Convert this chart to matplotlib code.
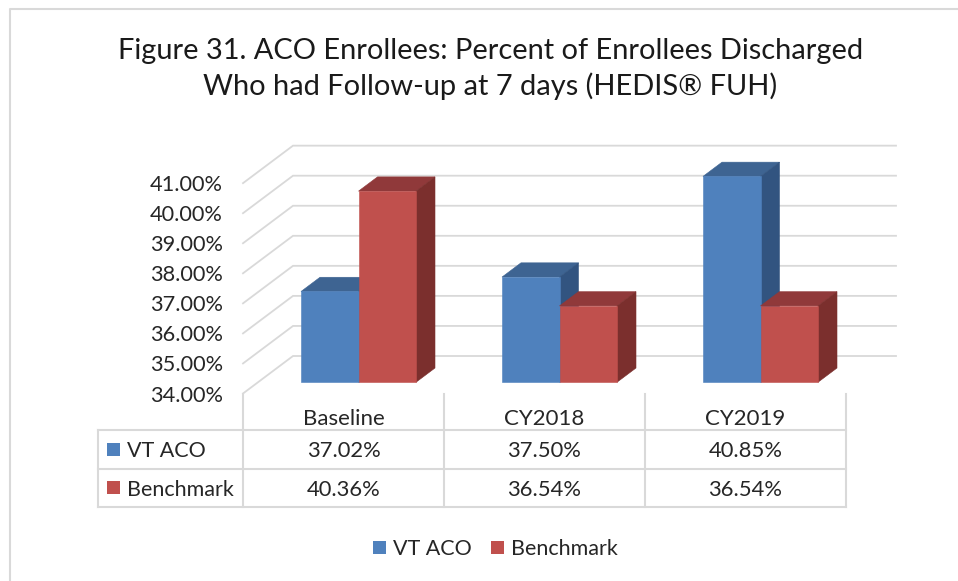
import matplotlib
matplotlib.use("Agg")
import matplotlib.pyplot as plt
from matplotlib.lines import Line2D
from matplotlib.patches import Polygon, Patch, Rectangle
from matplotlib.transforms import Affine2D

categories = ["Baseline", "CY2018", "CY2019"]
series_names = ["VT ACO", "Benchmark"]
vt_aco = [37.02, 37.50, 40.85]
benchmark = [40.36, 36.54, 36.54]
y_ticks = [34, 35, 36, 37, 38, 39, 40, 41]
title = "Figure 31. ACO Enrollees: Percent of Enrollees Discharged\nWho had Follow-up at 7 days (HEDIS® FUH)"

W, H = 958, 581
FONT = "Lato"
TEXT = "#262626"
GRID = "#D9D9D9"
FRONT = ["#4F81BD", "#C0504D"]
TOP = ["#3E6492", "#90393A"]
SIDE = ["#325480", "#7B2F2D"]
plt.rcParams["font.family"] = FONT

fig = plt.figure(figsize=(W / 100, H / 100), dpi=100, facecolor="white")
px = Affine2D().scale(1 / W, -1 / H).translate(0, 1) + fig.transFigure

# axes = front plane of the 3D box
L, R, B, T = 243, 846, 393.5, 145.7
ax = fig.add_axes([L / W, 1 - B / H, (R - L) / W, (B - T) / H])
px_per_val = 30.05
ax.set_xlim(-0.5, 2.5)
ax.set_ylim(34, 34 + (B - T) / px_per_val)
ax.patch.set_alpha(0)
for s in ax.spines.values():
    s.set_visible(False)
DX = 50 / ((R - L) / 3)
DY = 37.5 / px_per_val


def P(x, v, d):
    return (x + d * DX, v + d * DY)


# walls
for v in y_ticks:
    ax.plot(*zip(P(-0.5, v, 0), P(-0.5, v, 1), P(2.5, v, 1)), color=GRID, lw=1.3,
            clip_on=False, zorder=1, solid_joinstyle="miter")

# bars
BW = 57.5 / ((R - L) / 3)
D0, D1 = 0.30, 0.68
z = 2
for i in range(len(categories)):
    for j, vals in enumerate([vt_aco, benchmark]):
        x0 = i - BW + j * BW
        x1 = x0 + BW
        v = vals[i]
        base = 34
        top = [P(x0, v, D0), P(x1, v, D0), P(x1, v, D1), P(x0, v, D1)]
        side = [P(x1, base, D0), P(x1, v, D0), P(x1, v, D1), P(x1, base, D1)]
        front = [P(x0, base, D0), P(x1, base, D0), P(x1, v, D0), P(x0, v, D0)]
        for poly, col in ((top, TOP[j]), (side, SIDE[j]), (front, FRONT[j])):
            ax.add_patch(Polygon(poly, closed=True, facecolor=col, edgecolor=col, lw=0.4,
                                 clip_on=False, zorder=z))
            z += 1

# axis labels
ax.set_yticks(y_ticks)
ax.set_yticklabels([f"{v:.2f}%" for v in y_ticks], fontsize=15.7, color=TEXT)
ax.set_xticks(range(len(categories)))
ax.set_xticklabels(categories, fontsize=16, color=TEXT)
ax.tick_params(axis="y", length=0, pad=14.5)
ax.tick_params(axis="x", length=0, pad=11.5)

# data table grid
col_x = [L + i * (R - L) / 3 for i in range(4)]
row_y = [430, 468.5, 507]
tl = [98, R]
for y in row_y:
    fig.add_artist(Line2D(tl, [y, y], transform=px, color=GRID, lw=1.5))
fig.add_artist(Line2D([98, 98], [row_y[0], row_y[2]], transform=px, color=GRID, lw=1.5))
for x in col_x:
    fig.add_artist(Line2D([x, x], [B, row_y[2]], transform=px, color=GRID, lw=1.5))

# data table text
for r, (name, vals) in enumerate(zip(series_names, [vt_aco, benchmark])):
    yc = (row_y[r] + row_y[r + 1]) / 2
    fig.add_artist(Rectangle((107, yc - 6.5), 13, 13, transform=px, facecolor=FRONT[r], edgecolor="none"))
    fig.text(127, yc, name, transform=px, fontsize=15.5, color=TEXT, va="center_baseline", ha="left")
    for c, v in enumerate(vals):
        fig.text((col_x[c] + col_x[c + 1]) / 2, yc, f"{v:.2f}%", transform=px, fontsize=15.8,
                 color=TEXT, va="center_baseline", ha="center")

# outer frame (open at right and bottom)
fig.add_artist(Line2D([10, 10, W], [H, 8.5, 8.5], transform=px, color=GRID, lw=1.5))

# title
fig.text(490.5, 69, title, transform=px, fontsize=20.9, color="#1a1a1a", ha="center", va="center",
         linespacing=1.38)

# legend
handles = [Patch(facecolor=FRONT[k], edgecolor="none", label=series_names[k]) for k in range(2)]
fig.legend(handles=handles, loc="center", bbox_to_anchor=(495.5 / W, 1 - 549 / H), ncol=2, frameon=False,
           fontsize=15.5, labelcolor=TEXT, handlelength=0.6, handleheight=0.6, handletextpad=0.32,
           columnspacing=0.9, borderpad=0)

fig.savefig("out.png", dpi=100, facecolor="white")
